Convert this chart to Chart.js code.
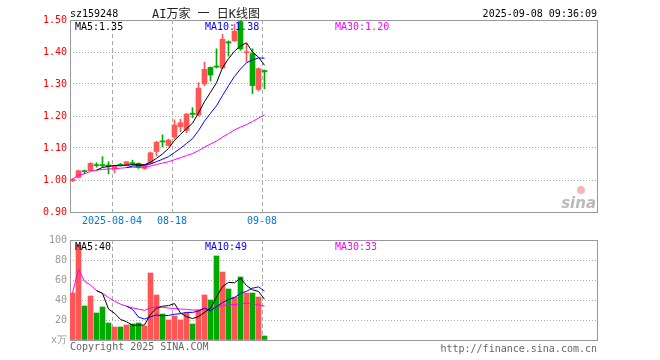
<!DOCTYPE html>
<html>
<head>
<meta charset="utf-8">
<script src="https://cdn.jsdelivr.net/npm/chart.js@4"></script>
<style>
  body { margin: 0; background: #fff; }
  #wrap { position: relative; width: 660px; height: 360px; }
  #k { position: absolute; left: 0; top: 0; }
  #v { position: absolute; left: 0; top: 225px; }
</style>
</head>
<body>
<div id="wrap">
  <canvas id="k" width="660" height="235"></canvas>
  <canvas id="v" width="660" height="135"></canvas>
</div>
<script>
// daily K data, sz159248
const dates = ['2025-07-24','2025-07-25','2025-07-28','2025-07-29','2025-07-30','2025-07-31','2025-08-01',
  '2025-08-04','2025-08-05','2025-08-06','2025-08-07','2025-08-08','2025-08-11','2025-08-12','2025-08-13',
  '2025-08-14','2025-08-15','2025-08-18','2025-08-19','2025-08-20','2025-08-21','2025-08-22','2025-08-25',
  '2025-08-26','2025-08-27','2025-08-28','2025-08-29','2025-09-01','2025-09-02','2025-09-03','2025-09-04',
  '2025-09-05','2025-09-08'];
const opens  = [0.998,1.008,1.029,1.029,1.048,1.047,1.047,1.035,1.049,1.045,1.054,1.052,1.036,1.052,1.089,
  1.122,1.108,1.134,1.167,1.155,1.209,1.203,1.300,1.352,1.356,1.350,1.432,1.435,1.495,1.398,1.395,1.283,1.342];
const highs  = [1.004,1.031,1.031,1.054,1.054,1.073,1.057,1.046,1.052,1.058,1.062,1.054,1.048,1.087,1.121,
  1.141,1.128,1.188,1.190,1.208,1.226,1.304,1.368,1.353,1.410,1.455,1.435,1.487,1.500,1.425,1.410,1.350,1.344];
const lows   = [0.995,1.006,1.020,1.028,1.040,1.040,1.019,1.022,1.044,1.044,1.047,1.036,1.033,1.050,1.075,
  1.104,1.106,1.128,1.151,1.148,1.195,1.200,1.295,1.310,1.350,1.348,1.387,1.433,1.405,1.368,1.270,1.278,1.285];
const closes = [1.002,1.029,1.026,1.052,1.045,1.045,1.042,1.044,1.046,1.057,1.051,1.039,1.046,1.085,1.118,
  1.119,1.125,1.172,1.179,1.206,1.205,1.287,1.346,1.328,1.353,1.440,1.428,1.465,1.410,1.401,1.295,1.348,1.338];
// volume in 万
const volumes = [47,95,34,44,27,33,17,13,13,15,16,17,14,67,45,26,20,24,20,27,16,30,45,40,84,68,51,43,63,47,47,43,4];

const markDates  = ['2025-08-04','2025-08-18','2025-09-08'];
const markLabels = ['2025-08-04','08-18','09-08'];
const priceMaText = ['MA5:1.35','MA10:1.38','MA30:1.20'];
const volMaText   = ['MA5:40','MA10:49','MA30:33'];

const UP = '#ff5555', DOWN = '#00aa00';
const MA_COLORS = ['#000000', '#0000ff', '#ff00ff'];
const MONO = '"DejaVu Sans Mono", monospace';

function movingAvg(arr, n, partial) {
  return arr.map((_, i) => {
    if (i < n - 1 && !partial) return null;
    const part = arr.slice(Math.max(0, i - n + 1), i + 1);
    return part.reduce((a, b) => a + b, 0) / part.length;
  });
}
const pts = arr => arr.map((v, i) => ({ x: i, y: v })).filter(p => p.y !== null);

const colors = closes.map((c, i) => c >= opens[i] ? UP : DOWN);
const markIdx = markDates.map(d => dates.indexOf(d));

// x: one slot per trading day, only the first 33 are filled
const X_MIN = -0.4167, X_MAX = 87.4167;

function frame(maText) {
  return {
    id: 'frame',
    beforeDatasetsDraw(chart) {
      const { ctx, chartArea: a, scales: { x } } = chart;
      ctx.save();
      ctx.strokeStyle = '#999';
      ctx.lineWidth = 1;
      ctx.strokeRect(a.left + 0.5, a.top + 0.5, a.right - a.left, a.bottom - a.top);
      ctx.strokeStyle = '#aaa';
      ctx.setLineDash([4, 3]);
      markIdx.forEach(i => {
        const px = Math.round(x.getPixelForValue(i) - 2.5) + 0.5;
        ctx.beginPath();
        ctx.moveTo(px, a.top);
        ctx.lineTo(px, a.bottom);
        ctx.stroke();
      });
      ctx.restore();
    },
    afterDraw(chart) {
      const { ctx, chartArea: a } = chart;
      ctx.save();
      ctx.font = '10px ' + MONO;
      ctx.textBaseline = 'top';
      maText.forEach((t, k) => {
        ctx.fillStyle = MA_COLORS[k];
        ctx.fillText(t, a.left + 5 + k * 130, a.top + 2);
      });
      ctx.restore();
    }
  };
}

const headerPlugin = {
  id: 'header',
  afterDraw(chart) {
    const { ctx, chartArea: a, scales: { x } } = chart;
    ctx.save();
    ctx.font = '10px ' + MONO;
    ctx.fillStyle = '#000';
    ctx.textBaseline = 'alphabetic';
    ctx.textAlign = 'left';
    ctx.fillText('sz159248', a.left, 17);
    ctx.textAlign = 'right';
    ctx.fillText('2025-09-08 09:36:09', a.right, 17);
    ctx.textAlign = 'center';
    ctx.fillStyle = '#222';
    ctx.font = '12px ' + MONO + ', "Noto Sans CJK SC"';
    ctx.fillText('AI万家 一 日K线图', 206, 18);
    // date labels
    ctx.font = '10px ' + MONO;
    ctx.fillStyle = '#0077dd';
    markIdx.forEach((i, k) => {
      ctx.fillText(markLabels[k], Math.round(x.getPixelForValue(i) - 2.5), a.bottom + 12);
    });
    // sina mark
    ctx.fillStyle = 'rgba(245,120,120,0.55)';
    ctx.beginPath();
    ctx.arc(a.right - 16, a.bottom - 22, 4, 0, Math.PI * 2);
    ctx.fill();
    ctx.fillStyle = 'rgba(140,140,140,0.6)';
    ctx.font = 'italic bold 15px "DejaVu Sans"';
    ctx.textAlign = 'right';
    ctx.fillText('sina', a.right - 1, a.bottom - 4);
    ctx.restore();
  }
};

const footerPlugin = {
  id: 'footer',
  afterDraw(chart) {
    const { ctx, chartArea: a } = chart;
    ctx.save();
    ctx.font = '10px ' + MONO;
    ctx.fillStyle = '#666';
    ctx.textAlign = 'left';
    ctx.fillText('Copyright 2025 SINA.COM', a.left, a.bottom + 10);
    ctx.textAlign = 'right';
    ctx.fillText('http://finance.sina.com.cn', a.right, a.bottom + 12);
    ctx.restore();
  }
};

function yAxis(min, max, step, color, cb) {
  return {
    min: min, max: max,
    afterFit: s => { s.width = 70; },
    ticks: { stepSize: step, color: color, padding: 3, font: { family: MONO, size: 10 }, callback: cb },
    grid: { color: '#aaa', drawTicks: false },
    border: { display: false, dash: [1, 2] }
  };
}
const xAxis = { type: 'linear', min: X_MIN, max: X_MAX, offset: false, display: false };

function maLines(series) {
  return series.map((s, k) => ({
    type: 'line', data: pts(s), borderColor: MA_COLORS[k], borderWidth: 1,
    pointRadius: 0, tension: 0, order: 0
  }));
}

const baseOpts = {
  responsive: false, animation: false, devicePixelRatio: 1,
  plugins: { legend: { display: false }, tooltip: { enabled: false } }
};

new Chart(document.getElementById('k'), {
  type: 'bar',
  data: {
    datasets: [
      { data: dates.map((d, i) => ({ x: i, y: [lows[i], highs[i]] })), backgroundColor: colors,
        barThickness: 1, grouped: false, order: 2 },
      { data: dates.map((d, i) => ({ x: i, y: [opens[i], closes[i]] })), backgroundColor: colors,
        barThickness: 5, minBarLength: 1, grouped: false, order: 1 },
      ...maLines([movingAvg(closes, 5), movingAvg(closes, 10), movingAvg(closes, 30, true)])
    ]
  },
  options: Object.assign({}, baseOpts, {
    layout: { padding: { left: 0, right: 63, top: 20, bottom: 23 } },
    scales: {
      x: xAxis,
      y: yAxis(0.9, 1.5, 0.1, '#ff0000', v => v.toFixed(2))
    }
  }),
  plugins: [frame(priceMaText), headerPlugin]
});

new Chart(document.getElementById('v'), {
  type: 'bar',
  data: {
    datasets: [
      { data: volumes.map((v, i) => ({ x: i, y: v })), backgroundColor: colors,
        barThickness: 5, grouped: false, order: 1 },
      ...maLines([movingAvg(volumes, 5), movingAvg(volumes, 10), movingAvg(volumes, 30, true)])
    ]
  },
  options: Object.assign({}, baseOpts, {
    layout: { padding: { left: 0, right: 63, top: 15, bottom: 20 } },
    scales: {
      x: xAxis,
      y: yAxis(0, 100, 20, '#999', v => v === 0 ? 'x万' : v)
    }
  }),
  plugins: [frame(volMaText), footerPlugin]
});
</script>
</body>
</html>
